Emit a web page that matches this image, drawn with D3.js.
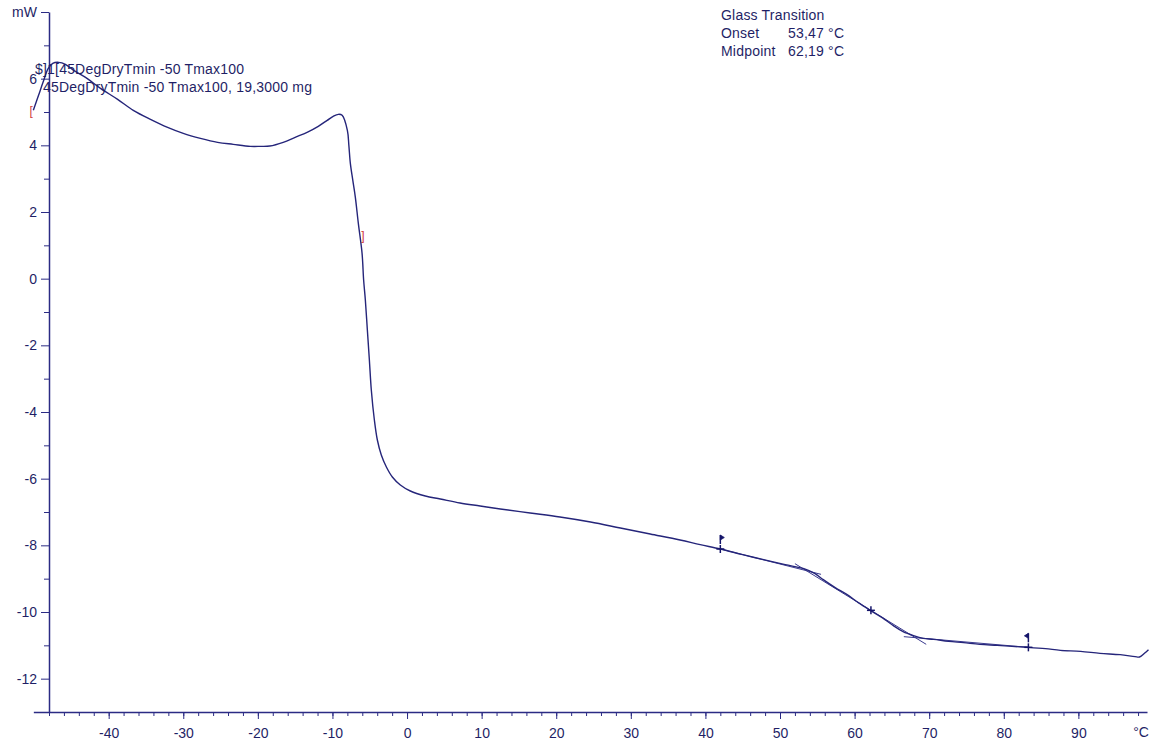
<!DOCTYPE html>
<html>
<head>
<meta charset="utf-8">
<script src="https://cdn.jsdelivr.net/npm/d3@7"></script>
<style>
  html, body { margin: 0; padding: 0; background: #ffffff; }
  svg { display: block; }
  text { font-family: "Liberation Sans", Arial, sans-serif; }
</style>
</head>
<body>
<svg id="chart" width="1151" height="744"></svg>
<script>
// DSC heating curve: temperature (°C) and heat flow (mW)
const temperature = [
  -50.1, -49.4, -48.8, -48.1, -47.5, -46.7, -45.8, -44.7, -43.1, -41.1,
  -38.8, -36.7, -34.4, -32.1, -30.0, -27.7, -25.4, -23.3, -21.0, -19.7,
  -18.4, -16.6, -15.0, -13.4, -11.9, -10.7, -9.9, -9.2, -8.7, -8.0,
  -7.8, -7.6, -7.27, -6.93, -6.53, -6.03, -5.82, -5.59, -5.32, -5.05,
  -4.79, -4.38, -3.98, -3.45, -2.77, -1.97, -0.9, 0.44, 2.45, 4.46,
  7.1, 9.8, 12.5, 16.5, 20.5, 24.6, 28.6, 32.6, 36.6, 39.3,
  42.0, 45.0, 47.8, 50.7, 53.2, 54.7, 55.8, 57.4, 59.0, 60.5,
  62.1, 63.7, 65.2, 66.5, 67.9, 69.2, 70.6, 72.6, 74.6, 76.8,
  79.1, 81.1, 83.3, 85.6, 87.6, 90.3, 92.9, 95.6, 97.6, 98.2,
  98.9, 99.4
];
const heatFlow = [
  5.05, 5.50, 5.89, 6.31, 6.46, 6.49, 6.43, 6.25, 6.04, 5.71,
  5.38, 5.05, 4.78, 4.54, 4.36, 4.21, 4.09, 4.03, 3.97, 3.97,
  3.98, 4.09, 4.24, 4.39, 4.57, 4.75, 4.87, 4.93, 4.90, 4.45,
  4.00, 3.46, 2.95, 2.44, 1.66, 0.76, -0.04, -0.64, -1.54, -2.44,
  -3.34, -4.24, -4.84, -5.29, -5.65, -5.95, -6.19, -6.37, -6.52, -6.61,
  -6.73, -6.82, -6.91, -7.03, -7.15, -7.30, -7.48, -7.66, -7.84, -7.98,
  -8.11, -8.28, -8.43, -8.58, -8.70, -8.85, -9.03, -9.27, -9.48, -9.72,
  -9.95, -10.17, -10.41, -10.59, -10.71, -10.79, -10.82, -10.88, -10.92, -10.97,
  -11.00, -11.03, -11.06, -11.10, -11.15, -11.18, -11.24, -11.28, -11.34, -11.35,
  -11.23, -11.13
];

// Glass transition evaluation
const onsetT = 53.47;
const midpointT = 62.19;
const midpointHF = -9.95;
const limitLeft = { t: 42.0, hf: -8.11 };
const limitRight = { t: 83.3, hf: -11.06 };
// tangent segments as [startT, startHF, endT, endHF]
const baselineBefore = [42.0, -8.11, 55.5, -8.87];
const inflectionTangent = [52.0, -8.55, 69.6, -10.97];
const baselineAfter = [66.6, -10.74, 83.3, -11.06];

// axis ticks
const xMajorTicks = [-40, -30, -20, -10, 0, 10, 20, 30, 40, 50, 60, 70, 80, 90];
const xMinorTicks = d3.range(-48, 99, 2);
const yMajorTicks = [-12, -10, -8, -6, -4, -2, 0, 2, 4, 6];
const yMinorTicks = [-13, -11, -9, -7, -5, -3, -1, 1, 3, 5, 7];
const yUnitTick = 8;

const curveTitle = "$]1[45DegDryTmin -50 Tmax100";
const sampleLabel = "45DegDryTmin -50 Tmax100, 19,3000 mg";
const resultLines = [
  ["Glass Transition", ""],
  ["Onset", "53,47 °C"],
  ["Midpoint", "62,19 °C"]
];

const navy = "#2b2b84";
const curveColor = "#25257a";
const textColor = "#1f1f66";
const markColor = "#15156a";

const svg = d3.select("#chart");

const x = d3.scaleLinear().domain([-48, 99.2]).range([49, 1147]);
const y = d3.scaleLinear().domain([-13, 8]).range([712, 12]);

// x axis line spans the full measured range
const xAxisScale = x.copy().domain([-50.1, 99.2]).range([x(-50.1), x(99.2)]);

const fmt = d => d < 0 ? "-" + Math.abs(d) : String(d);

// X axis: minor ticks
svg.append("g")
  .attr("transform", `translate(0,${y(-13)})`)
  .call(d3.axisBottom(xAxisScale).tickValues(xMinorTicks).tickSize(4).tickSizeOuter(0).tickFormat(""))
  .call(g => g.selectAll("line").attr("stroke", navy))
  .call(g => g.select(".domain").attr("stroke", navy).attr("stroke-width", 1.5));

// X axis: major ticks with labels
svg.append("g")
  .attr("transform", `translate(0,${y(-13)})`)
  .call(d3.axisBottom(xAxisScale).tickValues(xMajorTicks).tickSize(7).tickPadding(9).tickSizeOuter(0).tickFormat(fmt))
  .call(g => g.select(".domain").remove())
  .call(g => g.selectAll("line").attr("stroke", navy))
  .call(g => g.selectAll("text").attr("fill", textColor).attr("font-size", 14)
    .attr("font-family", "Liberation Sans, Arial, sans-serif"));

svg.append("text")
  .attr("x", x(98) + 3).attr("y", y(-13) + 25)
  .attr("text-anchor", "middle")
  .attr("fill", textColor).attr("font-size", 14)
  .text("°C");

// Y axis: minor ticks
svg.append("g")
  .attr("transform", `translate(${x(-48)},0)`)
  .call(d3.axisLeft(y).tickValues(yMinorTicks).tickSize(5).tickSizeOuter(0).tickFormat(""))
  .call(g => g.selectAll("line").attr("stroke", navy))
  .call(g => g.select(".domain").attr("stroke", navy).attr("stroke-width", 1.5));

// Y axis: major ticks with labels, top tick carries the unit
svg.append("g")
  .attr("transform", `translate(${x(-48)},0)`)
  .call(d3.axisLeft(y).tickValues(yMajorTicks.concat([yUnitTick])).tickSize(8).tickPadding(4).tickSizeOuter(0)
    .tickFormat(d => d === yUnitTick ? "mW" : fmt(d)))
  .call(g => g.select(".domain").remove())
  .call(g => g.selectAll("line").attr("stroke", navy))
  .call(g => g.selectAll("text").attr("fill", textColor).attr("font-size", 14)
    .attr("font-family", "Liberation Sans, Arial, sans-serif"));

// Evaluation tangents
const segs = [baselineBefore, inflectionTangent, baselineAfter];
svg.append("g").selectAll("line").data(segs).join("line")
  .attr("x1", d => x(d[0])).attr("y1", d => y(d[1]))
  .attr("x2", d => x(d[2])).attr("y2", d => y(d[3]))
  .attr("stroke", "#3a3a8e").attr("stroke-width", 1);

// Measured curve
const pts = temperature.map((t, i) => [t, heatFlow[i]]);
svg.append("path")
  .datum(pts)
  .attr("fill", "none")
  .attr("stroke", curveColor)
  .attr("stroke-width", 1.4)
  .attr("d", d3.line().x(d => x(d[0])).y(d => y(d[1])).curve(d3.curveCatmullRom.alpha(0.5)));

// Evaluation limit crosses and midpoint cross
const crossG = svg.append("g").attr("stroke", markColor).attr("stroke-width", 1.5);
[limitLeft, limitRight, { t: midpointT, hf: midpointHF }].forEach(p => {
  const cx = x(p.t), cy = y(p.hf);
  crossG.append("line").attr("x1", cx - 4).attr("x2", cx + 4).attr("y1", cy).attr("y2", cy);
  crossG.append("line").attr("x1", cx).attr("x2", cx).attr("y1", cy - 4).attr("y2", cy + 4);
});
// Limit flags above the crosses
[[limitLeft, 1], [limitRight, -1]].forEach(([p, dir]) => {
  const cx = x(p.t), base = y(p.hf) - 5;
  svg.append("line").attr("x1", cx).attr("x2", cx).attr("y1", base).attr("y2", base - 9)
    .attr("stroke", markColor).attr("stroke-width", 1.5);
  svg.append("path")
    .attr("d", `M${cx},${base - 9}L${cx + 4 * dir},${base - 6.5}L${cx},${base - 4}Z`)
    .attr("fill", markColor).attr("stroke", markColor).attr("stroke-width", 0.8);
});

// Integration range markers
svg.append("text").attr("x", x(-50.4)).attr("y", y(5.05) + 5)
  .attr("text-anchor", "middle").attr("fill", "#d03a3a").attr("font-size", 12).text("[");
svg.append("text").attr("x", x(-5.9)).attr("y", y(1.3) + 5)
  .attr("text-anchor", "middle").attr("fill", "#d03a3a").attr("font-size", 12).text("]");

// Curve annotation
svg.append("text").attr("x", 35).attr("y", 74)
  .attr("fill", textColor).attr("font-size", 14).attr("letter-spacing", 0.2).text(curveTitle);
svg.append("text").attr("x", 43).attr("y", 92)
  .attr("fill", textColor).attr("font-size", 14).attr("letter-spacing", 0.2).text(sampleLabel);

// Result block
const res = svg.append("g");
resultLines.forEach((r, i) => {
  res.append("text").attr("x", 721).attr("y", 20 + i * 18)
    .attr("fill", textColor).attr("font-size", 14).attr("letter-spacing", 0.2).text(r[0]);
  if (r[1]) {
    res.append("text").attr("x", 788).attr("y", 20 + i * 18)
      .attr("fill", textColor).attr("font-size", 14).attr("letter-spacing", 0.2).text(r[1]);
  }
});
</script>
</body>
</html>
